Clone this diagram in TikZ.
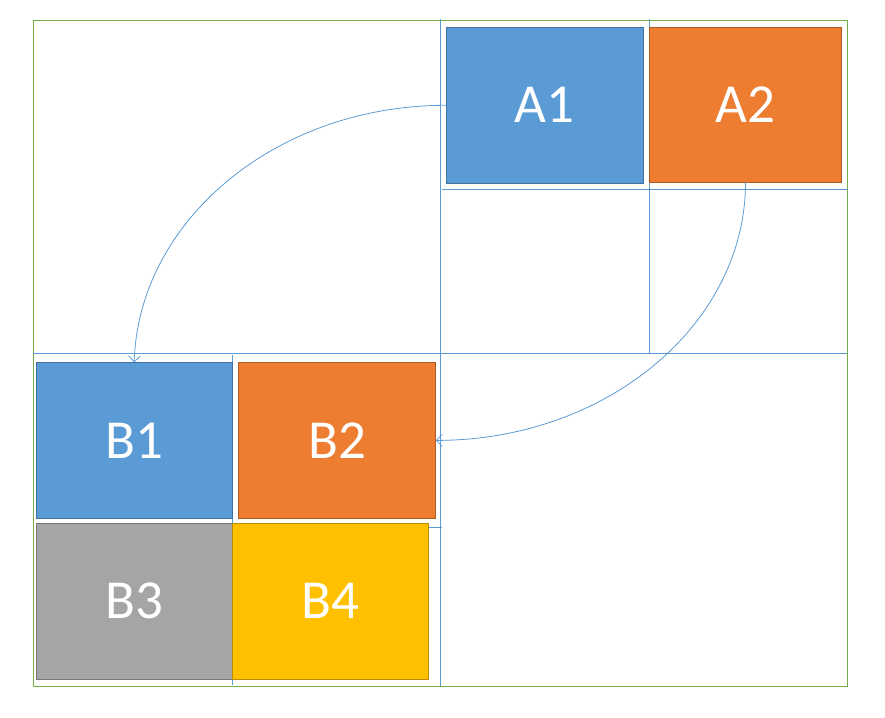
\documentclass[tikz,border=0pt]{standalone}
\usepackage{fontspec}
\setmainfont{Carlito}
\usetikzlibrary{arrows.meta}
\definecolor{ablue}{HTML}{5B9BD5}
\definecolor{ablueb}{HTML}{41719C}
\definecolor{aorange}{HTML}{ED7D31}
\definecolor{aorangeb}{HTML}{AE5A21}
\definecolor{agray}{HTML}{A5A5A5}
\definecolor{agrayb}{HTML}{787878}
\definecolor{ayellow}{HTML}{FFC000}
\definecolor{ayellowb}{HTML}{BC8C00}
\definecolor{agreen}{HTML}{70AD47}
\begin{document}
\begin{tikzpicture}[x=1pt,y=-1pt, cell/.style={rectangle,draw,line width=1pt,inner sep=0pt,outer sep=0pt,minimum height=156pt,text=white,font=\fontsize{55}{60}\selectfont}, grid/.style={ablue,line width=0.9pt}, move/.style={ablue,line width=0.8pt,-{Straight Barb[length=6pt,width=12pt]}}]
\useasboundingbox (0,0) rectangle (885,717);
% outer frame and grid
\draw[agreen,line width=0.9pt] (33,20) rectangle (847,686);
\draw[grid] (440.7,19) -- (440.7,686) (33,353.3) -- (847,353.3);
\draw[grid] (649.3,19) -- (649.3,353.3) (441.7,189.3) -- (848.3,189.3);
\draw[grid] (232.3,355) -- (232.3,685) (232.3,527.3) -- (442,527.3);
% blocks
\node[cell,fill=ablue,draw=ablueb,minimum width=197.5pt] (a1) at (544.8,105.3) {A1};
\node[cell,fill=aorange,draw=aorangeb,minimum width=192.4pt,minimum height=155pt] (a2) at (745.5,104.8) {A2};
\node[cell,fill=ablue,draw=ablueb,minimum width=196.3pt] (b1) at (134.2,440.4) {B1};
\node[cell,fill=aorange,draw=aorangeb,minimum width=197.4pt] (b2) at (337,440.4) {B2};
\node[cell,fill=agray,draw=agrayb,minimum width=196.3pt] (b3) at (134.2,601.3) {B3};
\node[cell,fill=ayellow,draw=ayellowb,minimum width=196pt] (b4) at (330.3,601.3) {B4};
% moves
\draw[move] (a1.west) .. controls +(-172,0) and +(4,-140) .. (b1.north);
\draw[move] (a2.south) .. controls +(0,142) and +(171,0) .. (b2.east);
\end{tikzpicture}
\end{document}
